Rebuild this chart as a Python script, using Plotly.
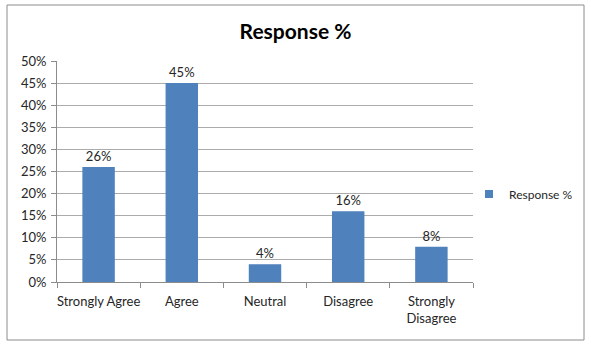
import plotly.graph_objects as go

# Survey responses
categories = ["Strongly Agree", "Agree", "Neutral", "Disagree", "Strongly<br>Disagree"]
response_pct = [26, 45, 4, 16, 8]
series_name = "Response %"

BAR_COLOR = "#4F81BD"
W, H = 591, 348
left, right, top, bottom = 57, 473, 61, 282  # plot area in pixels

def px_x(p):
    return (p - left) / (right - left)

def px_y(p):
    return (bottom - p) / (bottom - top)

fig = go.Figure()
fig.add_trace(
    go.Bar(
        x=categories,
        y=response_pct,
        name=series_name,
        marker=dict(color=BAR_COLOR, line=dict(width=0)),
        width=0.39,
        text=[f"{v}%" for v in response_pct],
        textposition="outside",
        textfont=dict(family="Lato, Liberation Sans, sans-serif", size=13, color="#262626"),
        cliponaxis=False,
        showlegend=False,
    )
)
# Legend entry with a small square key
fig.add_trace(
    go.Scatter(
        x=[None],
        y=[None],
        mode="markers",
        name=series_name,
        marker=dict(symbol="square", size=8, color=BAR_COLOR),
        showlegend=True,
    )
)

fig.update_layout(
    width=W,
    height=H,
    margin=dict(l=left, r=W - right, t=top, b=H - bottom, autoexpand=False),
    paper_bgcolor="white",
    plot_bgcolor="white",
    font=dict(family="Lato, Liberation Sans, sans-serif", size=13, color="#262626"),
    title=dict(
        text="<b>Response %</b>",
        x=0.5,
        xanchor="center",
        xref="container",
        y=1 - 32 / H,
        yanchor="middle",
        yref="container",
        font=dict(size=21, color="black"),
    ),
    legend=dict(
        x=px_x(469),
        y=px_y(194),
        xanchor="left",
        yanchor="middle",
        font=dict(size=12),
        itemwidth=30,
        bgcolor="rgba(0,0,0,0)",
    ),
    bargap=0.6,
    xaxis=dict(
        type="category",
        categoryorder="array",
        categoryarray=categories,
        showline=True,
        linecolor="#8c8c8c",
        linewidth=1,
        ticks="outside",
        tickson="boundaries",
        ticklen=5,
        tickcolor="#8c8c8c",
        showgrid=False,
        tickangle=0,
        ticklabelstandoff=7,
        tickfont=dict(size=13),
        automargin=False,
    ),
    yaxis=dict(
        range=[0, 50],
        dtick=5,
        ticksuffix="%",
        showline=True,
        linecolor="#8c8c8c",
        linewidth=1,
        ticks="outside",
        ticklen=5,
        tickcolor="#8c8c8c",
        showgrid=True,
        gridcolor="#ababab",
        gridwidth=1,
        zeroline=False,
        ticklabelstandoff=2,
        tickfont=dict(size=13),
        automargin=False,
    ),
    shapes=[
        dict(
            type="rect",
            xref="paper",
            yref="paper",
            x0=px_x(7),
            x1=px_x(584),
            y0=px_y(340),
            y1=px_y(5),
            line=dict(color="#8c8c8c", width=1),
            fillcolor="rgba(0,0,0,0)",
            layer="below",
        )
    ],
)

fig.write_html("out.html")
